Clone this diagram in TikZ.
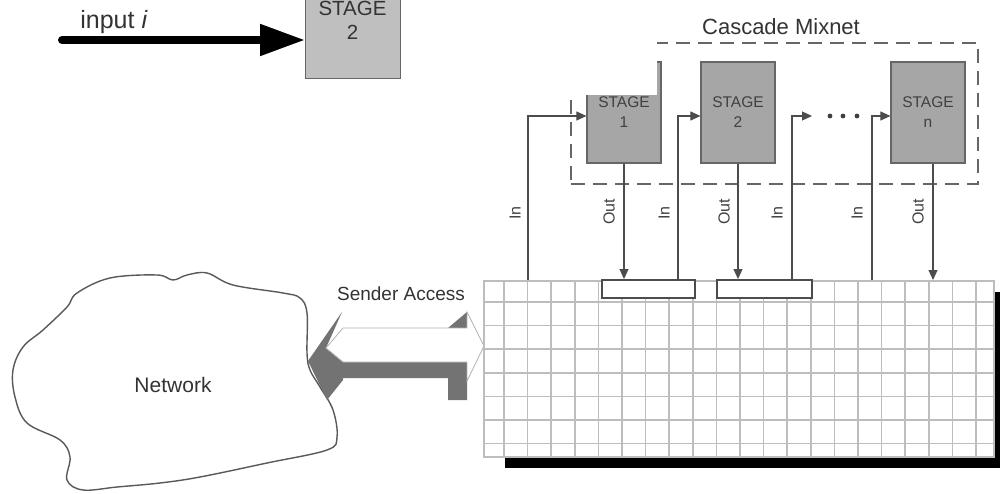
\documentclass[tikz,border=0pt]{standalone}
\usepackage{fontspec}
\setmainfont{Liberation Sans}
\usetikzlibrary{arrows.meta,calc}
\begin{document}
\begin{tikzpicture}[x=1pt,y=-1pt,
 stagebox/.style={draw=black!60, fill=black!35, line width=1.2pt, minimum width=74pt, minimum height=101pt, inner sep=0pt, align=center, font=\fontsize{15.5}{20}\selectfont, text=black!75},
 conn/.style={draw=black!70, line width=1.1pt},
 tipped/.style={conn, -{Triangle[length=10pt,width=9pt]}},
 lbl/.style={rotate=90, font=\fontsize{16}{18}\selectfont, text=black!75, inner sep=0pt},
 gridline/.style={draw=black!26, line width=1.5pt},
 bufbox/.style={draw=black!70, line width=2pt, fill=white, minimum height=18pt, inner sep=0pt},
 grayface/.style={fill=black!55, draw=none},
 txt/.style={text=black!80, inner sep=0pt},
]
\useasboundingbox (0,0) rectangle (1000,494);
\fill[white] (0,0) rectangle (1000,494);

% ---- network cloud
\draw[black!65, line width=1.4pt] plot[smooth cycle, tension=0.6] coordinates {
 (77,293) (110,278) (157,275) (173,280) (187,275) (207,273) (233,285) (283,293)
 (300,298) (307,313) (307,353) (310,370) (320,387) (333,410) (337,437) (327,450)
 (267,463) (200,477) (160,483) (117,487) (83,490) (67,480) (70,457) (60,440)
 (27,423) (15,397) (13,370) (23,347) (43,330) (67,307)};
\node[txt, anchor=base, font=\fontsize{21}{24}\selectfont] (net) at (173,392) {Network};

% ---- sender access arrow
\fill[grayface] (342,312) -- (308,361) -- (327,400) -- (343,380) -- (343,362) -- (326,348) -- cycle;
\fill[grayface] (343,362) -- (467,362) -- (467,400) -- (448,400) -- (448,378) -- (343,378) -- cycle;
\fill[grayface] (448,328) -- (467,312) -- (467,328) -- cycle;
\filldraw[fill=white, draw=black!30, line width=0.8pt] (326,348) -- (343,328) -- (467,328) -- (467,312) -- (484,346) -- (467,381) -- (467,362) -- (343,362) -- cycle;
\node[txt, anchor=base, font=\fontsize{19}{22}\selectfont] (sender) at (401,300) {Sender Access};

% ---- grid with shadow
\fill[black] (505,292) rectangle (1000,468);
\node[draw=black!26, line width=1.5pt, fill=white, minimum width=510pt, minimum height=176pt, inner sep=0pt, anchor=north west] (grid) at (483,280) {};
\foreach \k in {0,...,20} \draw[gridline] ({504+23.6*\k},280) -- ({504+23.6*\k},456);
\foreach \k in {0,...,6} \draw[gridline] (483,{302+23.6*\k}) -- (993,{302+23.6*\k});
\node[bufbox, minimum width=93pt] (buf1) at (648.5,289) {};
\node[bufbox, minimum width=95pt] (buf2) at (764.5,289) {};

% ---- cascade mixnet
\node[draw=black!60, dash pattern=on 14pt off 8pt, line width=1.5pt, minimum width=407pt, minimum height=141pt, inner sep=0pt] (mix) at (774.5,113.5) {};
\node[txt, anchor=base, font=\fontsize{22}{26}\selectfont] (mixlbl) at (781,35) {Cascade Mixnet};

\node[stagebox] (s1) at (624,112.5) {STAGE\\1};
\node[stagebox] (s2) at (738,112.5) {STAGE\\2};
\node[stagebox] (sn) at (928,112.5) {STAGE\\n};

% in connectors
\coordinate (in1) at (528,280);
\coordinate (in2) at (678,280);
\coordinate (in3) at (792,280);
\coordinate (in4) at (872,280);
\coordinate (dotsin) at (812,116);
\draw[tipped] (in1) |- ([yshift=-3.5pt]s1.west);
\draw[tipped] (in2) |- ([yshift=-3.5pt]s2.west);
\draw[tipped] (in3) |- (dotsin);
\draw[tipped] (in4) |- ([yshift=-3.5pt]sn.west);
% out connectors
\coordinate (on) at ([xshift=5pt]sn.south);
\draw[tipped] (s1.south) -- (s1.south |- buf1.north);
\draw[tipped] (s2.south) -- (s2.south |- buf2.north);
\draw[tipped] (on) -- (on |- grid.north);
% dots
\fill[black!75] (830,116) circle (2.4pt) (843,116) circle (2.4pt) (857,116) circle (2.4pt);

% labels
\node[lbl] (lin1) at (515,213) {In};
\node[lbl] (lin2) at (664,213) {In};
\node[lbl] (lin3) at (777,213) {In};
\node[lbl] (lin4) at (857,213) {In};
\node[lbl] (lout1) at (609,212) {Out};
\node[lbl] (lout2) at (724,212) {Out};
\node[lbl] (loutn) at (918,212) {Out};

% ---- pasted top-left part
\fill[white] (-5,-5) rectangle (657,95);
\node[draw=black!60, fill=black!25, line width=1.3pt, minimum width=95pt, minimum height=110pt, inner sep=0pt, anchor=south west] (top2) at (305,79) {};
\node[txt, align=center, font=\fontsize{20.5}{24}\selectfont] (top2txt) at (352.5,20) {STAGE\\2};
\coordinate (inpstart) at (62,40);
\draw[black, line width=8pt, line cap=round, -{Triangle[length=45pt,width=30pt]}] (inpstart) -- (top2.west |- inpstart);
\node[txt, anchor=base, font=\fontsize{25}{28}\selectfont] (inplbl) at (114,29) {input \textit{i}};
\end{tikzpicture}
\end{document}
